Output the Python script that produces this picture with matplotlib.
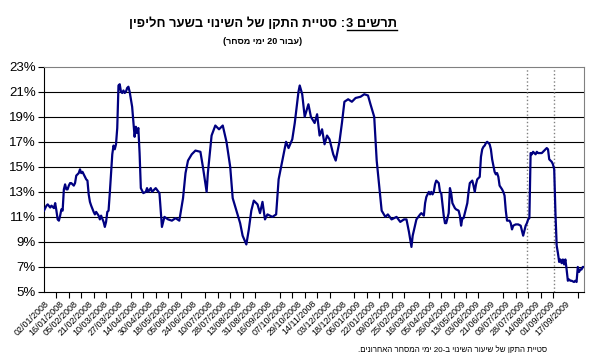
import re
import matplotlib
matplotlib.use('Agg')
import matplotlib.pyplot as plt
from matplotlib.lines import Line2D

plt.rcParams['font.family'] = ['Liberation Sans', 'DejaVu Sans']

# trading-day index and 20-day std of the exchange-rate change (%)
day = [0, 2, 3, 5, 6, 8, 9, 10, 11, 12, 13, 14, 15, 16, 17, 18, 19, 20, 21, 22, 23, 24, 25, 26, 28, 29, 30,
       31, 32, 34, 35, 36, 37, 38, 40, 41, 42, 44, 45, 46, 48, 49, 50, 51, 52, 53, 54, 55, 56, 57, 58, 59,
       60, 61, 62, 63, 64, 65, 66, 67, 68, 69, 70, 71, 72, 73, 74, 75, 76, 77, 78, 79, 80, 82, 83, 84, 86,
       87, 90, 93, 95, 97, 100, 103, 106, 109, 112, 114, 116, 119, 122, 126, 128, 131, 132, 135, 138, 141,
       144, 147, 150, 152, 155, 158, 160, 163, 165, 167, 169, 172, 174, 176, 178, 180, 184, 187, 189, 193,
       195, 197, 200, 202, 205, 206, 208, 210, 213, 215, 218, 220, 222, 224, 226, 228, 230, 233, 235, 238,
       240, 242, 245, 248, 251, 255, 258, 261, 263, 266, 268, 271, 272, 275, 277, 280, 284, 287, 290, 292,
       294, 296, 297, 300, 303, 304, 306, 307, 308, 310, 311, 312, 313, 314, 315, 316, 318, 319, 320, 322,
       323, 324, 326, 327, 328, 329, 330, 331, 332, 334, 335, 336, 337, 338, 339, 341, 342, 343, 345, 346,
       347, 348, 349, 351, 352, 353, 354, 355, 356, 357, 359, 360, 361, 363, 364, 365, 366, 367, 369, 370,
       371, 372, 373, 375, 376, 377, 378, 380, 381, 382, 384, 385, 386, 388, 389, 390, 391, 392, 393, 394,
       396, 397, 398, 400, 401, 402, 404, 405, 406, 407, 409, 410, 411, 412, 413, 414, 415, 416, 417, 418,
       419, 420, 421, 422, 423, 424, 425, 427, 428, 429, 430, 431, 432, 433, 434, 435]
vol = [11.5, 11.9, 12.0, 11.75, 11.9, 11.7, 12.1, 11.5, 10.8, 10.7, 11.1, 11.6, 11.5, 13.2, 13.6, 13.2, 13.2,
       13.5, 13.7, 13.7, 13.6, 13.5, 13.7, 14.3, 14.5, 14.8, 14.5, 14.6, 14.4, 14.0, 13.9, 12.8, 12.2, 11.9,
       11.4, 11.2, 11.4, 11.1, 10.8, 11.1, 10.6, 10.2, 10.6, 11.4, 11.5, 12.9, 14.5, 16.0, 16.7, 16.4, 16.8,
       18.1, 21.5, 21.6, 21.0, 20.9, 21.1, 20.9, 21.0, 21.3, 21.4, 21.0, 20.4, 19.8, 18.6, 17.4, 18.2, 17.7,
       18.1, 16.1, 13.3, 13.1, 12.9, 13.0, 13.3, 13.0, 13.3,
       13.0, 13.3, 12.9, 10.2, 11.0, 10.8, 10.7, 10.9, 10.7, 12.5, 14.5, 15.5, 16.0, 16.3, 16.2, 15.0, 13.0,
       14.5, 17.5, 18.3, 18.0, 18.3, 17.0, 15.0, 12.5, 11.5, 10.5, 9.5, 8.8, 10.0, 11.5, 12.3, 12.0, 11.3,
       12.2, 10.8, 11.2, 11.0, 11.2, 14.0, 16.0, 17.0, 16.5, 17.2, 18.5, 21.0, 21.5, 20.8, 19.0, 20.0, 19.0,
       18.5, 19.2, 17.5, 18.0, 16.8, 17.5, 17.2, 16.0, 15.5, 17.0, 18.5, 20.2, 20.4, 20.2, 20.5, 20.6, 20.8,
       20.7, 20.0, 19.0, 15.5, 12.5, 11.5, 11.0, 11.2, 10.8, 11.0, 10.6, 10.8, 10.8, 9.8, 8.6, 9.5, 10.8,
       11.2, 11.3, 11.1, 12.1, 12.6, 13.0, 12.8, 13.0, 12.8, 13.0, 13.6, 13.9, 13.7, 13.0, 12.9, 11.1, 10.5,
       10.5, 11.3, 13.3, 12.9, 12.1, 11.9, 11.7, 11.6, 11.5, 11.1, 10.3, 10.9, 10.9, 11.3, 12.1, 13.0, 13.7,
       13.9, 13.5, 13.0, 13.6, 14.0, 14.2, 15.8, 16.4, 16.6, 16.7, 16.9, 17.0, 16.8, 16.4, 15.6, 14.6, 14.4,
       14.5, 14.2, 13.5, 13.2, 13.0, 12.7, 11.5, 10.7, 10.7, 10.5, 10.0, 10.3, 10.4, 10.4, 10.4, 10.3, 9.9,
       9.5, 10.3, 10.5, 10.8, 10.9, 16.1, 16.0, 16.2, 16.0, 16.2, 16.1, 16.1, 16.1, 16.2, 16.4, 16.5, 16.4,
       15.6, 15.4, 15.2, 14.8, 11.3, 8.7, 8.1, 7.4, 7.6, 7.3, 7.6, 7.2, 7.6, 6.8, 5.9, 6.0, 5.9, 5.9, 5.8,
       5.9, 5.8, 7.0, 6.6, 6.8, 6.8, 7.0, 7.0]

dates = ['02/01/2008', '16/01/2008', '05/02/2008', '21/02/2008', '10/03/2008', '27/03/2008',
         '14/04/2008', '30/04/2008', '18/05/2008', '05/06/2008', '24/06/2008', '10/07/2008',
         '28/07/2008', '13/08/2008', '31/08/2008', '16/09/2008', '07/10/2008', '29/10/2008',
         '14/11/2008', '03/12/2008', '18/12/2008', '06/01/2009', '22/01/2009', '09/02/2009',
         '25/02/2009', '16/03/2009', '05/04/2009', '26/04/2009', '13/05/2009', '03/06/2009',
         '21/06/2009', '09/07/2009', '28/07/2009', '14/08/2009', '01/09/2009', '17/09/2009']
date_pos = list(range(0, 432, 12))
events = [389, 411]


def heb(s):
    # visual order for right-to-left text
    r = s[::-1]
    r = re.sub(r'\d+', lambda m: m.group(0)[::-1], r)
    return r.translate(str.maketrans('()', ')('))


W, H = 592, 358
fig = plt.figure(figsize=(W / 100, H / 100), dpi=100)
ax = fig.add_axes([44 / W, (H - 292) / H, 540 / W, 225.3 / H])

ax.plot(day, vol, color='#000080', lw=1.6, zorder=3)
for e in events:
    ax.axvline(e, color='#808080', ls=':', lw=1, zorder=2)

ax.set_xlim(0, 435)
ax.set_ylim(5, 23)
yt = list(range(5, 24, 2))
ax.set_yticks(yt)
ax.set_yticklabels([f'{v}%' for v in yt])
for v in yt[1:-1]:
    ax.axhline(v, color='black', lw=0.8, zorder=1)

ax.set_xticks(date_pos)
ax.set_xticklabels(dates, rotation=45, ha='right', rotation_mode='anchor', fontsize=6.5)
ax.set_xticks(range(0, 435, 10), minor=True)
ax.tick_params(axis='x', which='major', length=0, pad=5)
ax.tick_params(axis='x', which='minor', length=4, width=0.8, direction='out')
ax.tick_params(axis='y', length=4, width=0.8, direction='out', labelsize=9.5, pad=2)

for s in ['top', 'right']:
    ax.spines[s].set_color('#808080')
    ax.spines[s].set_linewidth(0.8)
for s in ['left', 'bottom']:
    ax.spines[s].set_color('black')
    ax.spines[s].set_linewidth(0.8)

# title: "תרשים 3" is underlined
ty = 1 - 27 / H
t1 = fig.text(0, ty, heb('סטיית התקן של השינוי בשער חליפין') + ' :', fontsize=9.3,
              fontweight='bold', va='baseline', ha='left')
t2 = fig.text(0, ty, heb('תרשים 3'), fontsize=9.3, fontweight='bold', va='baseline', ha='left')
fig.canvas.draw()
r = fig.canvas.get_renderer()
w1 = t1.get_window_extent(r).width
w2 = t2.get_window_extent(r).width
x0 = 263 - (w1 + w2) / 2
t1.set_x(x0 / W)
t2.set_x((x0 + w1) / W)
fig.add_artist(Line2D([(x0 + w1 + 1) / W, (x0 + w1 + w2) / W], [1 - 29.5 / H, 1 - 29.5 / H],
                      color='black', lw=1))

fig.text(263 / W, 1 - 42 / H, heb('(עבור 20 ימי מסחר)'), fontsize=6.5, fontweight='bold',
         ha='center', va='center')
fig.text(453 / W, 1 - 350 / H, heb('סטיית התקן של שיעור השינוי ב-20 ימי המסחר האחרונים.'),
         fontsize=5.8, ha='center', va='center')

fig.savefig('out.png', dpi=100)
